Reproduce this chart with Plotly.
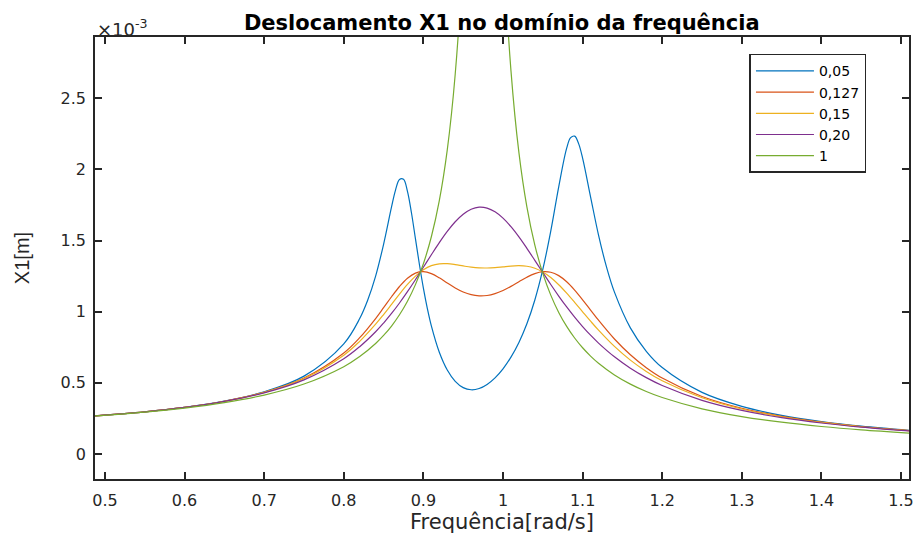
import plotly.graph_objects as go

# Frequency grids [rad/s]
x_common = [0.48, 0.55, 0.6, 0.65, 0.7, 0.75, 0.8, 0.82, 0.84, 0.85, 0.86, 0.87, 0.88, 0.89,
            0.9, 0.91, 0.92, 0.93, 0.94, 0.95, 0.96, 0.97, 0.98, 0.99,
            1.0, 1.01, 1.02, 1.03, 1.04, 1.05, 1.06, 1.07, 1.08, 1.09, 1.1,
            1.11, 1.12, 1.14, 1.16, 1.18, 1.2, 1.25, 1.3, 1.35, 1.4, 1.45, 1.52]

x_blue = [0.48, 0.55, 0.6, 0.65, 0.7, 0.75, 0.8, 0.82, 0.83, 0.84, 0.85, 0.86, 0.865, 0.87, 0.875,
          0.88, 0.885, 0.89, 0.895, 0.9, 0.905, 0.91, 0.92, 0.93, 0.94, 0.95, 0.96, 0.97, 0.98, 0.99,
          1.0, 1.01, 1.02, 1.03, 1.04, 1.05, 1.06, 1.07, 1.08, 1.085, 1.09, 1.095, 1.1,
          1.11, 1.12, 1.13, 1.14, 1.16, 1.18, 1.2, 1.25, 1.3, 1.35, 1.4, 1.45, 1.52]

x_green = [0.48, 0.55, 0.6, 0.65, 0.7, 0.75, 0.8, 0.82, 0.84, 0.85, 0.86, 0.87, 0.88, 0.89,
           0.9, 0.91, 0.92, 0.93, 0.94, 0.95, 0.96, 0.97, 0.975, 0.98, 0.99,
           1.0, 1.01, 1.02, 1.03, 1.04, 1.05, 1.06, 1.07, 1.08, 1.09, 1.1,
           1.11, 1.12, 1.14, 1.16, 1.18, 1.2, 1.25, 1.3, 1.35, 1.4, 1.45, 1.52]

# X1 amplitudes, in units of 1e-3 m
y_005 = [0.2652, 0.2964, 0.3277, 0.3716, 0.4371, 0.5470, 0.7737, 0.9512, 1.0800, 1.2501, 1.4730, 1.7358,
         1.8543, 1.9292, 1.9301, 1.8457, 1.6949, 1.5133, 1.3312, 1.1653, 1.0216, 0.9001, 0.7149, 0.5901,
         0.5104, 0.4663, 0.4511, 0.4598, 0.4886, 0.5351, 0.5985, 0.6803, 0.7838, 0.9148, 1.0821, 1.2964,
         1.5660, 1.8769, 2.1488, 2.2226, 2.2333, 2.1806, 2.0785, 1.8067, 1.5380, 1.3143, 1.1370, 0.8858,
         0.7214, 0.6070, 0.4327, 0.3346, 0.2715, 0.2275, 0.1950, 0.1615]

y_0127 = [0.2652, 0.2962, 0.3273, 0.3704, 0.4336, 0.5337, 0.7096, 0.8170, 0.9518, 1.0276, 1.1047, 1.1767,
          1.2349, 1.2711, 1.2812, 1.2676, 1.2379, 1.2015, 1.1665, 1.1380, 1.1191, 1.1110, 1.1137, 1.1267,
          1.1486, 1.1774, 1.2099, 1.2418, 1.2675, 1.2810, 1.2771, 1.2531, 1.2098, 1.1514, 1.0834,
          1.0114, 0.9398, 0.8078, 0.6968, 0.6065, 0.5335, 0.4039, 0.3210, 0.2642, 0.2232, 0.1923, 0.1600]

y_015 = [0.2651, 0.2962, 0.3272, 0.3700, 0.4323, 0.5294, 0.6942, 0.7914, 0.9117, 0.9798, 1.0513, 1.1232,
         1.1911, 1.2498, 1.2947, 1.3234, 1.3364, 1.3371, 1.3304, 1.3211, 1.3127, 1.3076, 1.3067, 1.3096,
         1.3150, 1.3205, 1.3229, 1.3188, 1.3047, 1.2785, 1.2396, 1.1892, 1.1300, 1.0655, 0.9989,
         0.9331, 0.8700, 0.7556, 0.6593, 0.5797, 0.5141, 0.3947, 0.3162, 0.2615, 0.2215, 0.1912, 0.1593]

y_020 = [0.2651, 0.2960, 0.3268, 0.3689, 0.4293, 0.5209, 0.6691, 0.7538, 0.8587, 0.9198, 0.9872, 1.0607,
         1.1401, 1.2243, 1.3118, 1.3999, 1.4853, 1.5640, 1.6318, 1.6847, 1.7195, 1.7342, 1.7280, 1.7017,
         1.6570, 1.5970, 1.5251, 1.4451, 1.3607, 1.2750, 1.1907, 1.1096, 1.0329, 0.9614, 0.8953,
         0.8346, 0.7792, 0.6826, 0.6026, 0.5362, 0.4808, 0.3770, 0.3061, 0.2554, 0.2176, 0.1886, 0.1578]

y_1 = [0.2643, 0.2939, 0.3226, 0.3609, 0.4139, 0.4912, 0.6132, 0.6841, 0.7759, 0.8326, 0.8991, 0.9780,
       1.0731, 1.1899, 1.3367, 1.5263, 1.7804, 2.1371, 2.6704, 3.537, 5.09, 7.70, 8.59, 8.08, 5.38,
       3.647, 2.694, 2.117, 1.7366, 1.4681, 1.2691, 1.1160, 0.9947, 0.8962, 0.8148, 0.7463,
       0.6879, 0.6376, 0.5553, 0.4908, 0.4390, 0.3964, 0.3173, 0.2628, 0.2231, 0.1928, 0.1691, 0.1434]

series_names = ["0,05", "0,127", "0,15", "0,20", "1"]
series_x = [x_blue, x_common, x_common, x_common, x_green]
series_y = [y_005, y_0127, y_015, y_020, y_1]
colors = ["#0072BD", "#D95319", "#EDB120", "#7E2F8E", "#77AC30"]

x_ticks = [0.5, 0.6, 0.7, 0.8, 0.9, 1.0, 1.1, 1.2, 1.3, 1.4, 1.5]
x_tick_labels = ["0.5", "0.6", "0.7", "0.8", "0.9", "1", "1.1", "1.2", "1.3", "1.4", "1.5"]
y_ticks = [0, 0.5, 1, 1.5, 2, 2.5]
y_tick_labels = ["0", "0.5", "1", "1.5", "2", "2.5"]

FONT = "DejaVu Sans, Verdana, sans-serif"
FONT_Y = "Arial, Liberation Sans, sans-serif"
AX = "#262626"

fig = go.Figure()
for name, xs, ys, c in zip(series_names, series_x, series_y, colors):
    fig.add_trace(go.Scatter(x=xs, y=ys, mode="lines", name=name,
                             line=dict(color=c, width=1.2, shape="spline", smoothing=1.0)))

fig.update_layout(
    width=918, height=534,
    margin=dict(l=95, r=9, t=37, b=55),
    paper_bgcolor="white", plot_bgcolor="white",
    font=dict(family=FONT, color=AX, size=16),
    title=dict(text="<b>Deslocamento X1 no domínio da frequência</b>",
               x=0.5466, xanchor="center", y=0.958, yanchor="middle",
               font=dict(family=FONT, size=21, color="black")),
    showlegend=True,
    legend=dict(x=0.804, y=0.962, xanchor="left", yanchor="top",
                bgcolor="white", bordercolor=AX, borderwidth=1.5,
                font=dict(family=FONT, size=14, color="black"),
                itemwidth=58, tracegroupgap=0),
)

fig.update_xaxes(range=[0.4875, 1.51], tickvals=x_ticks, ticktext=x_tick_labels, automargin=False,
                 showgrid=False, zeroline=False, showline=True, linecolor=AX, linewidth=1.5,
                 mirror="ticks", ticks="inside", ticklen=7, tickwidth=1.5, tickcolor=AX,
                 ticklabelstandoff=6,
                 tickfont=dict(family=FONT, size=16, color=AX),
                 title=dict(text="Frequência[rad/s]", standoff=8,
                            font=dict(family=FONT, size=21, color=AX)))
fig.update_yaxes(range=[-0.176, 2.93], tickvals=y_ticks, ticktext=y_tick_labels, automargin=False,
                 showgrid=False, zeroline=False, showline=True, linecolor=AX, linewidth=1.5,
                 mirror="ticks", ticks="inside", ticklen=7, tickwidth=1.5, tickcolor=AX,
                 ticklabelstandoff=4,
                 tickfont=dict(family=FONT, size=16, color=AX),
                 title=dict(text="X1[m]", standoff=26,
                            font=dict(family=FONT_Y, size=20, color=AX)))

fig.add_annotation(xref="paper", yref="paper", x=0.0, y=1.0, xanchor="left", yanchor="bottom",
                   text="×10<sup>-3</sup>", showarrow=False, xshift=0, yshift=-5,
                   font=dict(family=FONT, size=18, color=AX))

fig.write_html("out.html")
